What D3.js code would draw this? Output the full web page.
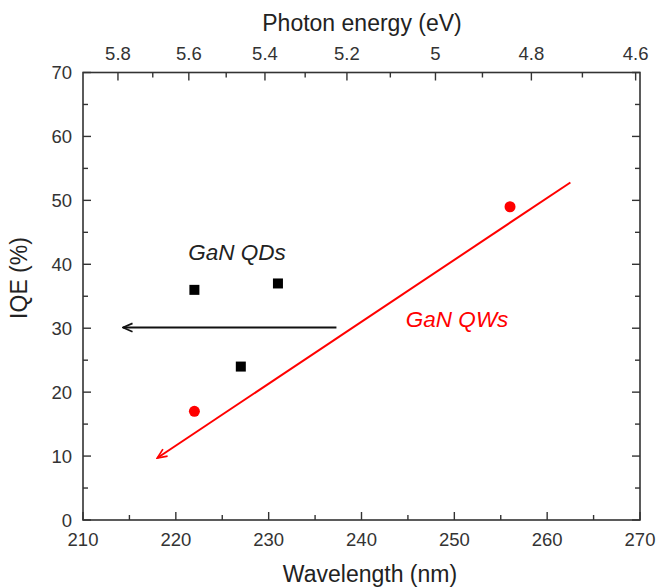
<!DOCTYPE html>
<html>
<head>
<meta charset="utf-8">
<script src="https://cdn.jsdelivr.net/npm/d3@7"></script>
<style>
  body { margin: 0; background: #fff; }
  svg { display: block; font-family: "Liberation Sans", Arial, sans-serif; }
  .tick-label { font-size: 18.5px; fill: #333; }
  .axis-title { font-size: 23px; fill: #222; }
</style>
</head>
<body>
<svg id="chart" width="656" height="587"></svg>
<script>
// data
var qdWavelength = [222, 231, 227];
var qdIQE = [36, 37, 24];
var qwWavelength = [222, 256];
var qwIQE = [17, 49];
var qdArrow = [[237.3, 30.1], [214.3, 30.1]];
var qwArrow = [[262.5, 52.8], [218, 9.7]];
var xTicks = [210, 220, 230, 240, 250, 260, 270];
var yTicks = [0, 10, 20, 30, 40, 50, 60, 70];
var energyTicks = [5.8, 5.6, 5.4, 5.2, 5, 4.8, 4.6];
var energyMinor = [5.7, 5.5, 5.3, 5.1, 4.9, 4.7];

var margin = { left: 83, right: 16, top: 72.5, bottom: 67 };
var W = 656, H = 587;
var svg = d3.select("#chart");

var x = d3.scaleLinear().domain([210, 270]).range([margin.left, W - margin.right]);
var y = d3.scaleLinear().domain([0, 70]).range([H - margin.bottom, margin.top]);
var ev = function(e) { return x(1239.84 / e); };

var axisColor = "#333";
var g = svg.append("g");

// frame
g.append("rect")
  .attr("x", x(210)).attr("y", y(70))
  .attr("width", x(270) - x(210)).attr("height", y(0) - y(70))
  .attr("fill", "none").attr("stroke", axisColor).attr("stroke-width", 1.6);

function tick(x1, y1, x2, y2) {
  g.append("line").attr("x1", x1).attr("y1", y1).attr("x2", x2).attr("y2", y2)
    .attr("stroke", axisColor).attr("stroke-width", 1.4);
}

// bottom axis
d3.range(210, 271, 5).forEach(function(v) {
  var len = v % 10 === 0 ? 8 : 5;
  tick(x(v), y(0), x(v), y(0) - len);
});
xTicks.forEach(function(v) {
  g.append("text").attr("class", "tick-label")
    .attr("x", x(v)).attr("y", y(0) + 25.5)
    .attr("text-anchor", "middle").text(v);
});

// left / right axes
d3.range(0, 71, 5).forEach(function(v) {
  var len = v % 10 === 0 ? 8 : 5;
  tick(x(210), y(v), x(210) + len, y(v));
  tick(x(270), y(v), x(270) - len, y(v));
});
yTicks.forEach(function(v) {
  g.append("text").attr("class", "tick-label")
    .attr("x", x(210) - 11).attr("y", y(v) + 6.5)
    .attr("text-anchor", "end").text(v);
});

// top axis (photon energy)
energyTicks.forEach(function(e) {
  tick(ev(e), y(70), ev(e), y(70) + 8);
  g.append("text").attr("class", "tick-label")
    .attr("x", ev(e)).attr("y", y(70) - 12.5)
    .attr("text-anchor", "middle").text(e);
});
energyMinor.forEach(function(e) {
  tick(ev(e), y(70), ev(e), y(70) + 5);
});

// axis titles
svg.append("text").attr("class", "axis-title")
  .attr("x", 362).attr("y", 30.5)
  .attr("text-anchor", "middle").text("Photon energy (eV)");
svg.append("text").attr("class", "axis-title")
  .attr("x", 370).attr("y", 581.5)
  .attr("text-anchor", "middle").text("Wavelength (nm)");
svg.append("text").attr("class", "axis-title")
  .attr("transform", "translate(27,278) rotate(-90)")
  .attr("text-anchor", "middle").text("IQE (%)");

// arrow heads
var defs = svg.append("defs");
[["black", "#111"], ["red", "#f00"]].forEach(function(m) {
  defs.append("marker").attr("id", "arr-" + m[0])
    .attr("viewBox", "0 0 10 10").attr("refX", 9).attr("refY", 5)
    .attr("markerWidth", 12).attr("markerHeight", 12)
    .attr("markerUnits", "userSpaceOnUse").attr("orient", "auto")
    .append("path").attr("d", "M1,1.5 L9,5 L1,8.5")
    .attr("fill", "none").attr("stroke", m[1]).attr("stroke-width", 1.4);
});

var line = d3.line().x(function(d) { return x(d[0]); }).y(function(d) { return y(d[1]); });

svg.append("path").attr("d", line(qdArrow))
  .attr("stroke", "#111").attr("stroke-width", 2).attr("fill", "none")
  .attr("marker-end", "url(#arr-black)");
svg.append("path").attr("d", line(qwArrow))
  .attr("stroke", "#f00").attr("stroke-width", 2).attr("fill", "none")
  .attr("marker-end", "url(#arr-red)");

// points
svg.selectAll("rect.qd").data(qdWavelength).enter().append("rect")
  .attr("class", "qd")
  .attr("x", function(d) { return x(d) - 5; })
  .attr("y", function(d, i) { return y(qdIQE[i]) - 5; })
  .attr("width", 10).attr("height", 10).attr("fill", "#000");

svg.selectAll("circle.qw").data(qwWavelength).enter().append("circle")
  .attr("class", "qw")
  .attr("cx", function(d) { return x(d); })
  .attr("cy", function(d, i) { return y(qwIQE[i]); })
  .attr("r", 5.5).attr("fill", "#f00");

// labels
svg.append("text").attr("x", x(226.6)).attr("y", y(40.6))
  .attr("text-anchor", "middle").attr("font-size", 22.5).attr("font-style", "italic")
  .attr("fill", "#222").text("GaN QDs");
svg.append("text").attr("x", x(250.3)).attr("y", y(30.25))
  .attr("text-anchor", "middle").attr("font-size", 22.5).attr("font-style", "italic")
  .attr("fill", "#f00").text("GaN QWs");
</script>
</body>
</html>
